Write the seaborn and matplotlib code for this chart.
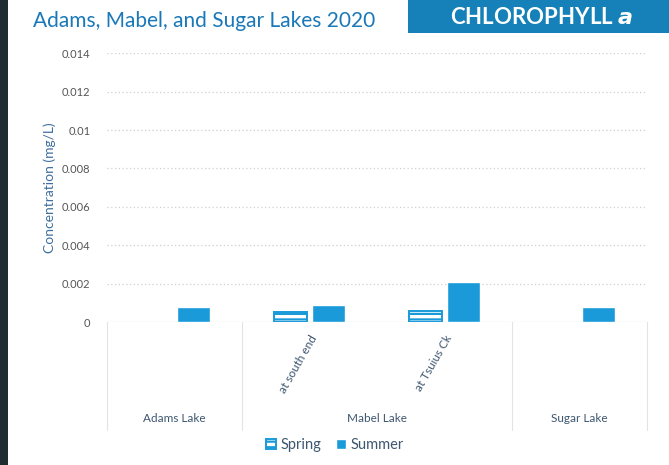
import numpy as np
import pandas as pd
import matplotlib
matplotlib.use("Agg")
import matplotlib.pyplot as plt
from matplotlib.patches import Rectangle
from matplotlib.ticker import FuncFormatter, MultipleLocator
import seaborn as sns

# values (mg/L)
sites = ["Adams Lake", "at south end", "at Tsuius Ck", "Sugar Lake"]
site_labels = ["", "at south end", "at Tsuius Ck", ""]
spring = [np.nan, 0.00052, 0.00056, np.nan]
summer = [0.00078, 0.00088, 0.0021, 0.00078]
lake_names = ["Adams Lake", "Mabel Lake", "Sugar Lake"]
lake_centres = [0, 1.5, 3]
lake_edges = [-0.5, 0.5, 2.5, 3.5]

BLUE = "#1a9ad9"
TITLE_BLUE = "#1a78b8"
BANNER = "#1581b8"
TEXT = "#3e5670"

df = pd.DataFrame({
    "site": sites * 2,
    "season": ["Spring"] * len(sites) + ["Summer"] * len(sites),
    "value": spring + summer,
})

sns.set_style("white")
plt.rcParams["font.family"] = ["Lato", "DejaVu Sans"]
plt.rcParams["hatch.linewidth"] = 1.6

fig = plt.figure(figsize=(6.69, 4.65), dpi=100)
ax = fig.add_axes([0.16, 0.3075, 0.807, 0.578])

sns.barplot(data=df, x="site", y="value", hue="season", order=sites,
            hue_order=["Spring", "Summer"], palette=[BLUE, BLUE],
            saturation=1, width=0.56, gap=0.13, ax=ax, legend=False)

# spring bars: white with blue stripes
for p in ax.containers[0]:
    p.set_facecolor("white")
    p.set_edgecolor(BLUE)
    p.set_hatch("---")
    p.set_linewidth(1.4)

ax.set_ylim(0, 0.014)
ax.yaxis.set_major_locator(MultipleLocator(0.002))
ax.yaxis.set_major_formatter(FuncFormatter(lambda v, _: f"{v:g}"))
ax.set_xlim(-0.5, 3.5)
ax.grid(axis="y", color="#cfcfcf", linestyle=(0, (1, 2)), linewidth=0.9)
ax.set_axisbelow(True)
for s in ax.spines.values():
    s.set_visible(False)
ax.axhline(0, color="#dcdcdc", linewidth=0.8, zorder=0)

ax.tick_params(axis="y", length=0, labelsize=8, labelcolor="#555555", pad=12)
ax.set_xticks(range(len(sites)))
ax.set_xticklabels(site_labels, rotation=60, ha="right", rotation_mode="anchor",
                   fontsize=8.5, color=TEXT)
ax.tick_params(axis="x", length=0, pad=8)
ax.set_xlabel("")
ax.set_ylabel("Concentration (mg/L)", fontsize=10, color="#3f6e9e", labelpad=4)

trans = ax.get_xaxis_transform()
for x in lake_edges:
    ax.plot([x, x], [0, -0.40], transform=trans, color="#e3e3e3",
            linewidth=0.8, clip_on=False)
for name, x in zip(lake_names, lake_centres):
    ax.text(x, -0.36, name, transform=trans, ha="center", va="center",
            fontsize=8.5, color=TEXT)

handles = [ax.containers[0][1], ax.containers[1][0]]
ax.legend(handles, ["Spring", "Summer"], loc="center", bbox_to_anchor=(0.5, 0.043),
          bbox_transform=fig.transFigure, ncol=2, frameon=False,
          fontsize=10.5, handlelength=0.7, handleheight=0.7,
          handletextpad=0.3, columnspacing=1.0, labelcolor=TEXT)

# header
fig.text(0.05, 0.955, "Adams, Mabel, and Sugar Lakes 2020", fontsize=15,
         color=TITLE_BLUE, ha="left", va="center")
fig.patches.append(Rectangle((0.61, 0.93), 0.39, 0.07, transform=fig.transFigure,
                             facecolor=BANNER, edgecolor="none"))
fig.text(0.81, 0.962, "CHLOROPHYLL $\\boldsymbol{a}$", fontsize=16, color="white",
         ha="center", va="center", fontweight="bold")
# dark photo edge on the left
fig.patches.append(Rectangle((0, 0), 0.012, 1, transform=fig.transFigure,
                             facecolor="#1f2c31", edgecolor="none"))

fig.savefig("out.png", dpi=100)
